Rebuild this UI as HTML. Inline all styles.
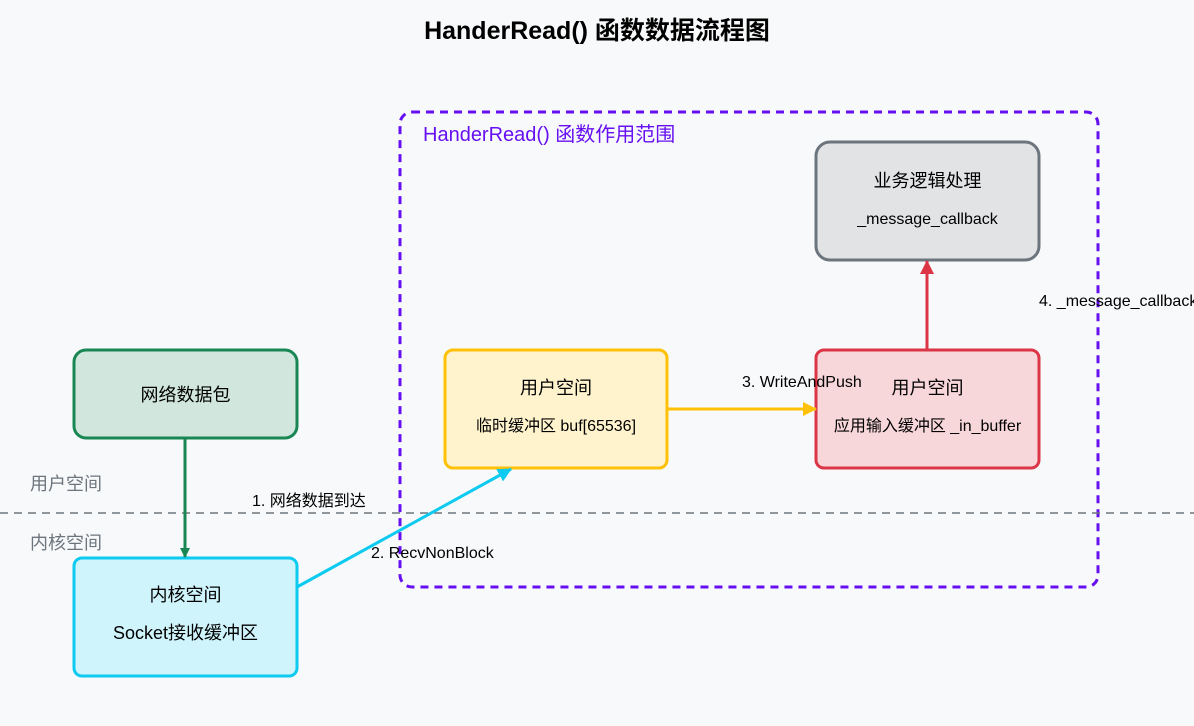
<!DOCTYPE html>
<html><head><meta charset="utf-8"><style>
html,body{margin:0;padding:0;background:#f8f9fa;}
svg{display:block;font-family:"Liberation Sans","Noto Sans CJK SC",sans-serif;}
</style></head><body>
<svg width="1194" height="726" viewBox="0 0 1194 726" xmlns="http://www.w3.org/2000/svg">
<defs>
<marker id="g" markerWidth="10" markerHeight="10" refX="9" refY="5" orient="auto" markerUnits="userSpaceOnUse" viewBox="0 0 10 10"><path d="M0,0L10,5L0,10z" fill="#198754"/></marker>
<marker id="c" markerWidth="14" markerHeight="14" refX="13" refY="7" orient="auto" markerUnits="userSpaceOnUse" viewBox="0 0 14 14"><path d="M0,0L14,7L0,14z" fill="#0dcaf0"/></marker>
<marker id="y" markerWidth="14" markerHeight="14" refX="13" refY="7" orient="auto" markerUnits="userSpaceOnUse" viewBox="0 0 14 14"><path d="M0,0L14,7L0,14z" fill="#ffc107"/></marker>
<marker id="r" markerWidth="14" markerHeight="14" refX="13" refY="7" orient="auto" markerUnits="userSpaceOnUse" viewBox="0 0 14 14"><path d="M0,0L14,7L0,14z" fill="#dc3545"/></marker>
</defs>
<rect width="1194" height="726" fill="#f8f9fa"/>
<text x="597" y="39" text-anchor="middle" font-size="25" font-weight="bold" fill="#000">HanderRead() 函数数据流程图</text>
<rect x="400" y="112" width="698" height="475" rx="12" fill="none" stroke="#6610f2" stroke-width="3" stroke-dasharray="8,6"/>
<text x="423" y="141" font-size="20" fill="#6610f2">HanderRead() 函数作用范围</text>
<line x1="0" y1="513" x2="1194" y2="513" stroke="#6c757d" stroke-width="1.5" stroke-dasharray="8,6"/>
<text x="30" y="490" font-size="18" fill="#6c757d">用户空间</text>
<text x="30" y="549" font-size="18" fill="#6c757d">内核空间</text>
<rect x="74" y="350" width="223" height="88" rx="12" fill="#d1e7dd" stroke="#198754" stroke-width="3"/>
<text x="185.5" y="401" text-anchor="middle" font-size="18" fill="#000">网络数据包</text>
<rect x="74" y="558" width="223" height="118" rx="8" fill="#cff4fc" stroke="#0dcaf0" stroke-width="3"/>
<text x="185.5" y="601" text-anchor="middle" font-size="18">内核空间</text>
<text x="185.5" y="639" text-anchor="middle" font-size="18">Socket接收缓冲区</text>
<rect x="445" y="350" width="222" height="118" rx="8" fill="#fff3cd" stroke="#ffc107" stroke-width="3"/>
<text x="556" y="394" text-anchor="middle" font-size="18">用户空间</text>
<text x="556" y="431" text-anchor="middle" font-size="16">临时缓冲区 buf[65536]</text>
<rect x="816" y="350" width="223" height="118" rx="8" fill="#f8d7da" stroke="#dc3545" stroke-width="3"/>
<text x="927.5" y="394" text-anchor="middle" font-size="18">用户空间</text>
<text x="927.5" y="431" text-anchor="middle" font-size="16">应用输入缓冲区 _in_buffer</text>
<rect x="816" y="142" width="223" height="118" rx="14" fill="#e2e3e5" stroke="#6c757d" stroke-width="3"/>
<text x="927.5" y="187" text-anchor="middle" font-size="18">业务逻辑处理</text>
<text x="927.5" y="224" text-anchor="middle" font-size="16">_message_callback</text>
<line x1="185" y1="438" x2="185" y2="557" stroke="#198754" stroke-width="3" marker-end="url(#g)"/>
<line x1="297" y1="587" x2="511" y2="469" stroke="#0dcaf0" stroke-width="3" marker-end="url(#c)"/>
<line x1="667" y1="409" x2="816" y2="409" stroke="#ffc107" stroke-width="3" marker-end="url(#y)"/>
<line x1="927" y1="350" x2="927" y2="261" stroke="#dc3545" stroke-width="3" marker-end="url(#r)"/>
<text x="252" y="506" font-size="16">1. 网络数据到达</text>
<text x="371" y="558" font-size="16">2. RecvNonBlock</text>
<text x="742" y="387" font-size="16">3. WriteAndPush</text>
<text x="1039" y="306" font-size="16">4. _message_callback</text>
</svg>
</body></html>
